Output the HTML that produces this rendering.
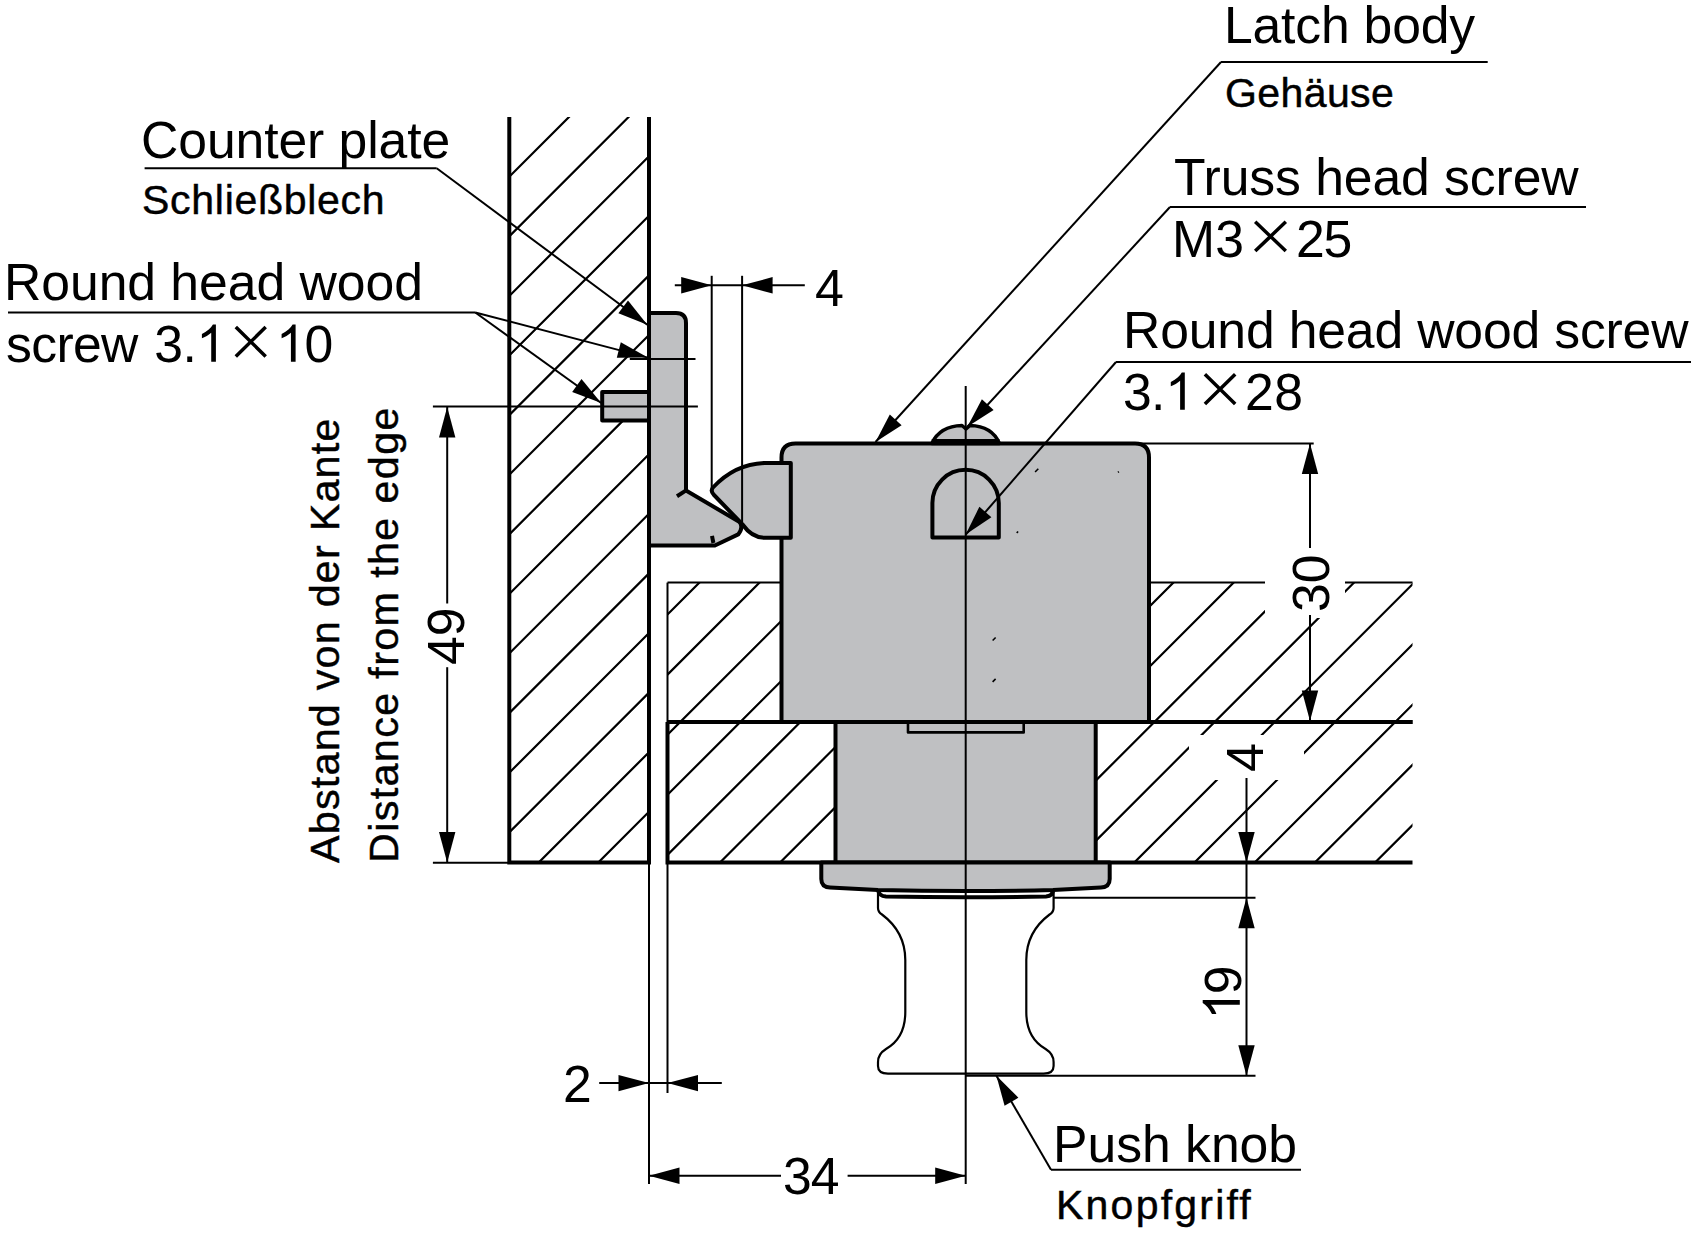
<!DOCTYPE html>
<html><head><meta charset="utf-8"><style>
html,body{margin:0;padding:0;background:#fff;}
svg{display:block;}
text{font-family:"Liberation Sans",sans-serif;fill:#000;}
#t_gehause,#t_schl,#t_knopf,#t_abstand,#t_distance{stroke:#000;stroke-width:0.45px;}
</style></head><body>
<svg width="1702" height="1234" viewBox="0 0 1702 1234">
<defs><clipPath id="cw"><rect x="509.3" y="117" width="139.7" height="745.5"/></clipPath><clipPath id="cl1"><rect x="667.5" y="582.6" width="114.0" height="139.39999999999998"/></clipPath><clipPath id="cl2"><rect x="667.5" y="722" width="168.0" height="140.5"/></clipPath><clipPath id="cr"><rect x="1095.7" y="582.4" width="316.79999999999995" height="280.1"/></clipPath></defs>
<rect x="0" y="0" width="1702" height="1234" fill="#fff"/>
<g class="shapes" stroke="#000" stroke-linecap="butt" stroke-linejoin="round">
<path d="M-360.3,867.5 L395.2,112.0 M-300.7,867.5 L454.8,112.0 M-241.1,867.5 L514.4,112.0 M-181.5,867.5 L574.0,112.0 M-121.9,867.5 L633.6,112.0 M-62.3,867.5 L693.2,112.0 M-2.7,867.5 L752.8,112.0 M56.9,867.5 L812.4,112.0 M116.5,867.5 L872.0,112.0 M176.1,867.5 L931.6,112.0 M235.7,867.5 L991.2,112.0 M295.3,867.5 L1050.8,112.0 M354.9,867.5 L1110.4,112.0 M414.5,867.5 L1170.0,112.0 M474.1,867.5 L1229.6,112.0 M533.7,867.5 L1289.2,112.0 M593.3,867.5 L1348.8,112.0 M652.9,867.5 L1408.4,112.0 M712.5,867.5 L1468.0,112.0" clip-path="url(#cw)" stroke-width="2.2" fill="none"/>
<path d="M434.8,727.0 L584.2,577.6 M494.9,727.0 L644.3,577.6 M555.0,727.0 L704.4,577.6 M615.1,727.0 L764.5,577.6 M675.2,727.0 L824.6,577.6 M735.3,727.0 L884.7,577.6 M795.4,727.0 L944.8,577.6 M855.5,727.0 L1004.9,577.6" clip-path="url(#cl1)" stroke-width="2.2" fill="none"/>
<path d="M414.5,867.5 L565.0,717.0 M474.6,867.5 L625.1,717.0 M534.7,867.5 L685.2,717.0 M594.8,867.5 L745.3,717.0 M654.9,867.5 L805.4,717.0 M715.0,867.5 L865.5,717.0 M775.1,867.5 L925.6,717.0 M835.2,867.5 L985.7,717.0 M895.3,867.5 L1045.8,717.0" clip-path="url(#cl2)" stroke-width="2.2" fill="none"/>
<path d="M707.9,867.5 L998.0,577.4 M768.1,867.5 L1058.2,577.4 M828.3,867.5 L1118.4,577.4 M888.5,867.5 L1178.6,577.4 M948.7,867.5 L1238.8,577.4 M1008.9,867.5 L1299.0,577.4 M1069.1,867.5 L1359.2,577.4 M1129.3,867.5 L1419.4,577.4 M1189.5,867.5 L1479.6,577.4 M1249.7,867.5 L1539.8,577.4 M1309.9,867.5 L1600.0,577.4 M1370.1,867.5 L1660.2,577.4 M1430.3,867.5 L1720.4,577.4 M1490.5,867.5 L1780.6,577.4" clip-path="url(#cr)" stroke-width="2.2" fill="none"/>
<path d="M509.3,117 V862.5 H649 V117" fill="none" stroke-width="4.0" stroke-linejoin="miter"/>
<line x1="649" y1="862.5" x2="649" y2="1184" stroke-width="2.0"/>
<line x1="667.5" y1="582.6" x2="781.5" y2="582.6" stroke-width="2.0"/>
<line x1="667.5" y1="582.6" x2="667.5" y2="722" stroke-width="2.0"/>
<path d="M667.5,722 V862.5 H1412.5" fill="none" stroke-width="4.0" stroke-linejoin="miter"/>
<line x1="667.5" y1="722" x2="1412.5" y2="722" stroke-width="4.0"/>
<line x1="667.5" y1="862.5" x2="667.5" y2="1093" stroke-width="2.0"/>
<line x1="1149" y1="582.4" x2="1412.5" y2="582.4" stroke-width="2.0"/>
<rect x="1265" y="548" width="80" height="70" fill="#fff" stroke="none"/>
<rect x="1189" y="735" width="115" height="45" fill="#fff" stroke="none"/>
<path d="M781.5,722 V457.5 Q781.5,443.5 795.5,443.5 H1135 Q1149,443.5 1149,457.5 V722 Z" fill="#bfc0c2" stroke-width="4.0"/>
<rect x="835.5" y="722" width="260.2" height="140.5" fill="#bfc0c2" stroke-width="4.0"/>
<rect x="908" y="722" width="115.7" height="10.4" fill="none" stroke-width="2.6"/>
<line x1="667.5" y1="722" x2="1412.5" y2="722" stroke-width="4.0"/>
<path d="M821.3,862.5 V879 Q821.3,887 830,887.6 L878,890 Q966,892 1053,890 L1101,887.6 Q1109.7,887 1109.7,879 V862.5 Z" fill="#bfc0c2" stroke-width="4.0"/>
<path d="M878,890 Q879,896 886,896.5 Q966,898 1046,896.5 Q1053,896 1053,890" fill="none" stroke-width="4.0"/>
<path d="M878,892 V908 Q878,912 882,914.5 Q905.3,932 905.3,960 V1012 Q905.3,1038 886,1049 Q878,1054 878,1062 V1066 Q878,1073.6 888,1073.6 H1043.6 Q1053.6,1073.6 1053.6,1066 V1062 Q1053.6,1054 1045.6,1049 Q1026.3,1038 1026.3,1012 V960 Q1026.3,932 1049.6,914.5 Q1053.6,912 1053.6,908 V892" fill="none" stroke-width="2.2"/>
<path d="M931.7,443.5 Q940,426 962,425.5 L966,429 L970,425.5 Q992,426 999.5,443.5 Z" fill="#bfc0c2" stroke-width="3.4"/>
<line x1="931.7" y1="441.5" x2="999.5" y2="441.5" stroke-width="5"/>
<path d="M932.4,537.5 V503 A33.2,33.2 0 0 1 998.8,503 V537.5 Z" fill="none" stroke-width="4.0"/>
<path d="M649,313 H676 Q686,313 686,323 V490.6 L739.2,521.7 Q744,527 738.2,534.4 L714.9,545.5 H649 Z" fill="#bfc0c2" stroke-width="4.0"/>
<line x1="685.7" y1="490.6" x2="677" y2="496.2" stroke-width="4.0"/>
<line x1="712" y1="535.8" x2="713.4" y2="543" stroke-width="4.0"/>
<rect x="602.2" y="392" width="46.8" height="28.4" fill="#bfc0c2" stroke-width="4.0"/>
<path d="M790.8,463 H764.5 Q735,464 713,487.5 Q710,491 714,495 L743,525 Q752,537.8 765,537.8 H790.8 Z" fill="#bfc0c2" stroke-width="4.0"/>
<line x1="1035.1" y1="472.0" x2="1038.3" y2="468.8" stroke-width="1.6"/>
<line x1="992.6" y1="640.5" x2="995.6" y2="637.5" stroke-width="1.6"/>
<line x1="992.6" y1="681.9" x2="995.6" y2="678.9" stroke-width="1.6"/>
<line x1="1016.7" y1="532.9" x2="1018.1" y2="531.5" stroke-width="1.6"/>
<line x1="1118.0" y1="472.4" x2="1118.8" y2="471.6" stroke-width="1.6"/>
<line x1="965.7" y1="386" x2="965.7" y2="1184" stroke-width="2.0"/>
<line x1="711.7" y1="275.8" x2="711.7" y2="489" stroke-width="2.0"/>
<line x1="742.1" y1="275.8" x2="742.1" y2="522" stroke-width="2.0"/>
<line x1="674.8" y1="285.3" x2="804.8" y2="285.3" stroke-width="2.0"/>
<path d="M711.7,285.3 L681.2,293.5 L681.2,277.1 Z" fill="#000" stroke="none"/>
<path d="M742.1,285.3 L772.6,277.1 L772.6,293.5 Z" fill="#000" stroke="none"/>
<line x1="629.8" y1="358.9" x2="695.5" y2="358.9" stroke-width="2.0"/>
<line x1="432.9" y1="406.5" x2="697.9" y2="406.5" stroke-width="2.0"/>
<line x1="432.9" y1="862.8" x2="509" y2="862.8" stroke-width="2.0"/>
<line x1="447.2" y1="407" x2="447.2" y2="603.5" stroke-width="2.0"/>
<line x1="447.2" y1="667.2" x2="447.2" y2="862.5" stroke-width="2.0"/>
<path d="M447.2,407.0 L455.4,437.5 L439.0,437.5 Z" fill="#000" stroke="none"/>
<path d="M447.2,862.5 L439.0,832.0 L455.4,832.0 Z" fill="#000" stroke="none"/>
<line x1="1140" y1="443.5" x2="1313.7" y2="443.5" stroke-width="2.0"/>
<line x1="1310" y1="443.5" x2="1310" y2="548" stroke-width="2.0"/>
<line x1="1310" y1="615" x2="1310" y2="721" stroke-width="2.0"/>
<path d="M1310.0,443.5 L1318.2,474.0 L1301.8,474.0 Z" fill="#000" stroke="none"/>
<path d="M1310.0,721.0 L1301.8,690.5 L1318.2,690.5 Z" fill="#000" stroke="none"/>
<line x1="1246.5" y1="778" x2="1246.5" y2="1076" stroke-width="2.0"/>
<path d="M1246.5,862.5 L1238.3,832.0 L1254.7,832.0 Z" fill="#000" stroke="none"/>
<line x1="1053" y1="897.8" x2="1255.5" y2="897.8" stroke-width="2.0"/>
<line x1="966" y1="1075.8" x2="1255.5" y2="1075.8" stroke-width="2.0"/>
<path d="M1246.5,897.8 L1254.7,928.3 L1238.3,928.3 Z" fill="#000" stroke="none"/>
<path d="M1246.5,1075.8 L1238.3,1045.3 L1254.7,1045.3 Z" fill="#000" stroke="none"/>
<line x1="599.2" y1="1083.1" x2="721.8" y2="1083.1" stroke-width="2.0"/>
<path d="M649.0,1083.1 L618.5,1091.3 L618.5,1074.9 Z" fill="#000" stroke="none"/>
<path d="M667.5,1083.1 L698.0,1074.9 L698.0,1091.3 Z" fill="#000" stroke="none"/>
<line x1="649" y1="1175.8" x2="781" y2="1175.8" stroke-width="2.0"/>
<path d="M649.0,1175.8 L679.5,1167.6 L679.5,1184.0 Z" fill="#000" stroke="none"/>
<line x1="847.6" y1="1175.8" x2="965.7" y2="1175.8" stroke-width="2.0"/>
<path d="M965.7,1175.8 L935.2,1184.0 L935.2,1167.6 Z" fill="#000" stroke="none"/>
<line x1="1221" y1="62" x2="1487.7" y2="62" stroke-width="2.0"/>
<line x1="1221" y1="62" x2="875.5" y2="442" stroke-width="2.0"/>
<path d="M875.5,442.0 L889.8,414.4 L901.6,425.2 Z" fill="#000" stroke="none"/>
<line x1="1170" y1="207" x2="1586" y2="207" stroke-width="2.0"/>
<line x1="1170" y1="207" x2="967.4" y2="426.7" stroke-width="2.0"/>
<path d="M967.4,426.7 L981.9,399.2 L993.6,410.1 Z" fill="#000" stroke="none"/>
<line x1="1116" y1="362" x2="1691" y2="362" stroke-width="2.0"/>
<line x1="1116" y1="362" x2="965.7" y2="534.6" stroke-width="2.0"/>
<path d="M965.7,534.6 L979.4,506.7 L991.4,517.2 Z" fill="#000" stroke="none"/>
<line x1="144.6" y1="168.3" x2="436.7" y2="168.3" stroke-width="2.0"/>
<line x1="436.7" y1="168.3" x2="647.3" y2="324.7" stroke-width="2.0"/>
<path d="M647.3,324.7 L618.4,313.2 L628.0,300.4 Z" fill="#000" stroke="none"/>
<line x1="8" y1="312.5" x2="475.3" y2="312.5" stroke-width="2.0"/>
<line x1="475.3" y1="312.5" x2="647.8" y2="357.6" stroke-width="2.0"/>
<path d="M647.8,357.6 L616.8,357.8 L620.8,342.3 Z" fill="#000" stroke="none"/>
<line x1="475.3" y1="312.5" x2="601.2" y2="403" stroke-width="2.0"/>
<path d="M601.2,403.0 L572.2,392.0 L581.5,379.0 Z" fill="#000" stroke="none"/>
<line x1="996.4" y1="1075.8" x2="1051" y2="1169.7" stroke-width="2.0"/>
<path d="M996.4,1075.8 L1018.4,1097.7 L1004.6,1105.8 Z" fill="#000" stroke="none"/>
<line x1="1051" y1="1169.7" x2="1301" y2="1169.7" stroke-width="2.0"/>
<path d="M763,0 L583,0 L583,1147 Q518,1085 413,1023 Q308,961 224,930 L224,1104 Q375,1175 488,1276 Q601,1377 648,1472 L763,1472 Z" fill="#000" stroke="none" transform="translate(201.9,361.7) scale(0.02597,-0.0252) translate(-224,0)"/>
<path d="M763,0 L583,0 L583,1147 Q518,1085 413,1023 Q308,961 224,930 L224,1104 Q375,1175 488,1276 Q601,1377 648,1472 L763,1472 Z" fill="#000" stroke="none" transform="translate(281.6,361.7) scale(0.02597,-0.0252) translate(-224,0)"/>
<path d="M763,0 L583,0 L583,1147 Q518,1085 413,1023 Q308,961 224,930 L224,1104 Q375,1175 488,1276 Q601,1377 648,1472 L763,1472 Z" fill="#000" stroke="none" transform="translate(1170.8,409.7) scale(0.02597,-0.0252) translate(-224,0)"/>
<path d="M763,0 L583,0 L583,1147 Q518,1085 413,1023 Q308,961 224,930 L224,1104 Q375,1175 488,1276 Q601,1377 648,1472 L763,1472 Z" fill="#000" stroke="none" transform="translate(1239.8,1014) rotate(-90) scale(0.02597,-0.0252) translate(-224,0)"/>
<path d="M1255.2,221.7 L1285.8,251.1 M1285.8,221.7 L1255.2,251.1" stroke-width="3.5" fill="none"/>
<path d="M1204.9,374.3 L1235.2,404.0 M1235.2,374.3 L1204.9,404.0" stroke-width="3.5" fill="none"/>
<path d="M235.8,327.1 L265.7,356.4 M265.7,327.1 L235.8,356.4" stroke-width="3.5" fill="none"/>
</g>
<g>
<text id="t_latch" x="1224.0" y="42.6" font-size="51.7" textLength="251.09" lengthAdjust="spacing">Latch body</text>
<text id="t_gehause" x="1225.0" y="106.6" font-size="41" textLength="168.81" lengthAdjust="spacing">Gehäuse</text>
<text id="t_truss" x="1174.0" y="194.5" font-size="51.7" textLength="404.68" lengthAdjust="spacing">Truss head screw</text>
<text id="t_m3" x="1172.0" y="256.6" font-size="51.7" textLength="72.01" lengthAdjust="spacing">M3</text>
<text id="t_n25" x="1296.0" y="256.6" font-size="51.7" textLength="56.3" lengthAdjust="spacing">25</text>
<text id="t_rhws" x="1123.0" y="347.6" font-size="51.7" textLength="565.52" lengthAdjust="spacing">Round head wood screw</text>
<text id="t_r31" x="1123.0" y="409.7" font-size="51.7" textLength="42.41" lengthAdjust="spacing">3.</text>
<text id="t_r28" x="1245.0" y="409.8" font-size="51.7" textLength="58.1" lengthAdjust="spacing">28</text>
<text id="t_counter" x="141.0" y="158.4" font-size="51.7" textLength="309.23" lengthAdjust="spacing">Counter plate</text>
<text id="t_schl" x="142.0" y="214.4" font-size="41" textLength="242.63" lengthAdjust="spacing">Schließblech</text>
<text id="t_rhw" x="4.0" y="300.4" font-size="51.7" textLength="418.89" lengthAdjust="spacing">Round head wood</text>
<text id="t_screw" x="6.0" y="361.8" font-size="51.7" textLength="132.38" lengthAdjust="spacing">screw</text>
<text id="t_l31" x="154.2" y="361.7" font-size="51.7" textLength="42.61" lengthAdjust="spacing">3.</text>
<text id="t_l10" x="304.6" y="361.7" font-size="51.7">0</text>
<text id="t_push" x="1053.0" y="1162" font-size="51.7" textLength="244.07" lengthAdjust="spacing">Push knob</text>
<text id="t_knopf" x="1056.0" y="1218.7" font-size="41" textLength="194.77" lengthAdjust="spacing">Knopfgriff</text>
<text id="t_d4top" x="815.0" y="306.1" font-size="52">4</text>
<text id="t_d2" x="563.0" y="1101.8" font-size="51.7">2</text>
<text id="t_d34" x="783.0" y="1194.3" font-size="51.7" textLength="56.5" lengthAdjust="spacing">34</text>
<text id="t_d49" x="0" y="0" font-size="51.7" textLength="57.6" lengthAdjust="spacing" transform="translate(464.0,665.0) rotate(-90)">49</text>
<text id="t_d30" x="0" y="0" font-size="51.7" textLength="57.4" lengthAdjust="spacing" transform="translate(1329.0,612.0) rotate(-90)">30</text>
<text id="t_d4r" x="0" y="0" font-size="52" transform="translate(1263.0,772.0) rotate(-90)">4</text>
<text id="t_d19" x="0" y="0" font-size="51.7" transform="translate(1240.6,994.2) rotate(-90)">9</text>
<text id="t_abstand" x="0" y="0" font-size="41.3" textLength="444.46" lengthAdjust="spacing" transform="translate(339.0,863.0) rotate(-90)">Abstand von der Kante</text>
<text id="t_distance" x="0" y="0" font-size="41.3" textLength="455.47" lengthAdjust="spacing" transform="translate(398.0,863.0) rotate(-90)">Distance from the edge</text>
</g>
</svg>
</body></html>
